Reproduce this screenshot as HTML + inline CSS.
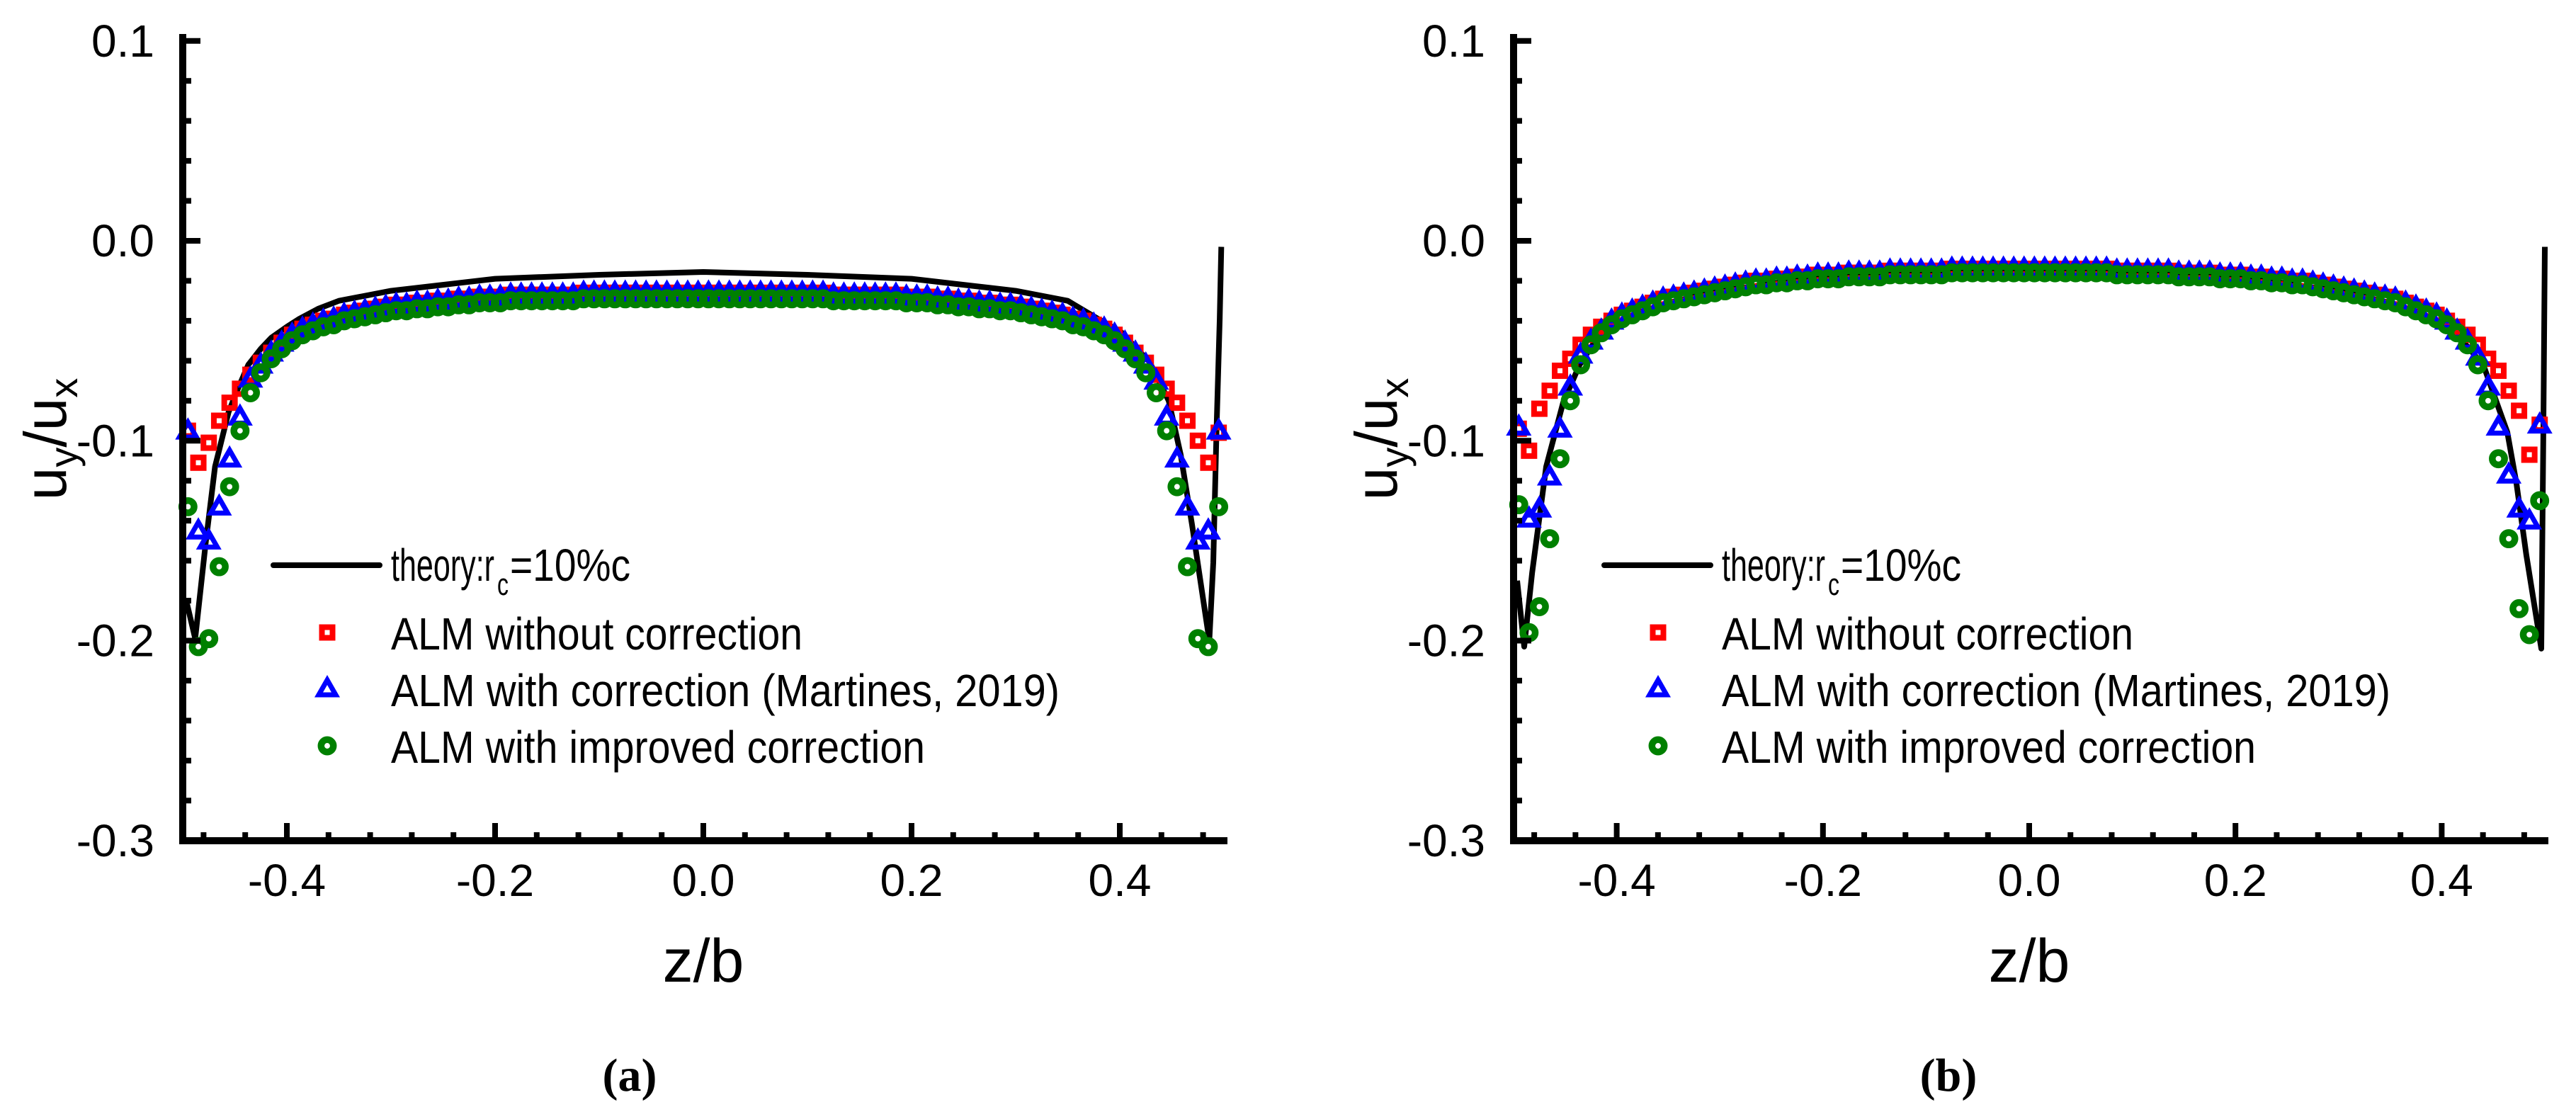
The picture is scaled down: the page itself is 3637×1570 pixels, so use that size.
<!DOCTYPE html>
<html><head><meta charset="utf-8"><style>
html,body{margin:0;padding:0;background:#fff}
svg{display:block}
text{font-family:"Liberation Sans",Arial,sans-serif}
</style></head><body>
<svg id="fig" width="3637" height="1570" viewBox="0 0 3637 1570" xmlns="http://www.w3.org/2000/svg"></svg>
<script>
// ---------- shared data ----------
const yTicks = [0.1, 0.0, -0.1, -0.2, -0.3];
const yTickLabels = ["0.1", "0.0", "-0.1", "-0.2", "-0.3"];
const xTicks = [-0.4, -0.2, 0.0, 0.2, 0.4];
const xTickLabels = ["-0.4", "-0.2", "0.0", "0.2", "0.4"];
const markerZ = [-0.495,-0.485,-0.475,-0.465,-0.455,-0.445,-0.435,-0.425,-0.415,-0.405,-0.395,-0.385,-0.375,-0.365,-0.355,-0.345,-0.335,-0.325,-0.315,-0.305,-0.295,-0.285,-0.275,-0.265,-0.255,-0.245,-0.235,-0.225,-0.215,-0.205,-0.195,-0.185,-0.175,-0.165,-0.155,-0.145,-0.135,-0.125,-0.115,-0.105,-0.095,-0.085,-0.075,-0.065,-0.055,-0.045,-0.035,-0.025,-0.015,-0.005,0.005,0.015,0.025,0.035,0.045,0.055,0.065,0.075,0.085,0.095,0.105,0.115,0.125,0.135,0.145,0.155,0.165,0.175,0.185,0.195,0.205,0.215,0.225,0.235,0.245,0.255,0.265,0.275,0.285,0.295,0.305,0.315,0.325,0.335,0.345,0.355,0.365,0.375,0.385,0.395,0.405,0.415,0.425,0.435,0.445,0.455,0.465,0.475,0.485,0.495];

// ---------- panel (a) ----------
const theoryZa = [-0.4966,-0.488,-0.478,-0.469,-0.456,-0.447,-0.437,-0.425,-0.415,-0.40,-0.388,-0.37,-0.35,-0.3,-0.25,-0.2,-0.1,0,0.1,0.2,0.25,0.3,0.35,0.379,0.4014,0.4286,0.447,0.4585,0.4694,0.486,0.4898,0.493,0.496,0.4975];
const theoryVa = [-0.18,-0.199,-0.1515,-0.113,-0.0857,-0.074,-0.062,-0.054,-0.0485,-0.043,-0.039,-0.034,-0.030,-0.025,-0.022,-0.019,-0.017,-0.0156,-0.017,-0.019,-0.022,-0.025,-0.030,-0.039,-0.0457,-0.0606,-0.080,-0.107,-0.142,-0.200,-0.161,-0.093,-0.039,-0.003];
const redA = [-0.095,-0.111,-0.101,-0.090,-0.081,-0.074,-0.067,-0.061,-0.056,-0.051,
-0.047,-0.044,-0.042,-0.040,-0.039,-0.037,-0.036,-0.035,-0.034,-0.033,
-0.032,-0.032,-0.031,-0.031,-0.030,-0.030,-0.029,-0.029,-0.028,-0.028,
-0.028,-0.027,-0.027,-0.027,-0.027,-0.027,-0.027,-0.027,-0.026,-0.026,
-0.026,-0.026,-0.026,-0.026,-0.026,-0.026,-0.026,-0.026,-0.026,-0.026,
-0.026,-0.026,-0.026,-0.026,-0.026,-0.026,-0.026,-0.026,-0.026,-0.026,
-0.026,-0.026,-0.027,-0.027,-0.027,-0.027,-0.027,-0.027,-0.027,-0.028,
-0.028,-0.028,-0.029,-0.029,-0.030,-0.030,-0.031,-0.031,-0.032,-0.032,
-0.033,-0.034,-0.035,-0.036,-0.037,-0.039,-0.040,-0.042,-0.044,-0.047,
-0.051,-0.056,-0.061,-0.067,-0.074,-0.081,-0.090,-0.100,-0.111,-0.096];
const blueA = [-0.095,-0.145,-0.150,-0.133,-0.109,-0.088,-0.069,-0.062,-0.056,-0.051,
-0.047,-0.044,-0.042,-0.040,-0.039,-0.037,-0.036,-0.035,-0.034,-0.033,
-0.032,-0.032,-0.031,-0.031,-0.030,-0.030,-0.029,-0.029,-0.028,-0.028,
-0.028,-0.027,-0.027,-0.027,-0.027,-0.027,-0.027,-0.027,-0.026,-0.026,
-0.026,-0.026,-0.026,-0.026,-0.026,-0.026,-0.026,-0.026,-0.026,-0.026,
-0.026,-0.026,-0.026,-0.026,-0.026,-0.026,-0.026,-0.026,-0.026,-0.026,
-0.026,-0.026,-0.027,-0.027,-0.027,-0.027,-0.027,-0.027,-0.027,-0.028,
-0.028,-0.028,-0.029,-0.029,-0.030,-0.030,-0.031,-0.031,-0.032,-0.032,
-0.033,-0.034,-0.035,-0.036,-0.037,-0.039,-0.040,-0.042,-0.044,-0.047,
-0.051,-0.056,-0.062,-0.070,-0.088,-0.109,-0.133,-0.150,-0.145,-0.095];
const greenA = [-0.133,-0.203,-0.199,-0.163,-0.123,-0.095,-0.076,-0.066,-0.059,-0.054,
-0.050,-0.047,-0.045,-0.043,-0.042,-0.040,-0.039,-0.038,-0.037,-0.036,
-0.035,-0.035,-0.034,-0.034,-0.033,-0.033,-0.032,-0.032,-0.031,-0.031,
-0.031,-0.030,-0.030,-0.030,-0.030,-0.030,-0.030,-0.030,-0.029,-0.029,
-0.029,-0.029,-0.029,-0.029,-0.029,-0.029,-0.029,-0.029,-0.029,-0.029,
-0.029,-0.029,-0.029,-0.029,-0.029,-0.029,-0.029,-0.029,-0.029,-0.029,
-0.029,-0.029,-0.030,-0.030,-0.030,-0.030,-0.030,-0.030,-0.030,-0.031,
-0.031,-0.031,-0.032,-0.032,-0.033,-0.033,-0.034,-0.034,-0.035,-0.035,
-0.036,-0.037,-0.038,-0.039,-0.040,-0.042,-0.043,-0.045,-0.047,-0.050,
-0.054,-0.059,-0.066,-0.076,-0.095,-0.123,-0.163,-0.199,-0.203,-0.133];

// ---------- panel (b) ----------
const theoryZb = [-0.4966,-0.4897,-0.482,-0.4684,-0.452,-0.436,-0.4135,-0.38,-0.35,-0.3,-0.2,-0.1,0,0.1,0.2,0.3,0.35,0.38,0.4087,0.427,0.441,0.452,0.4636,0.4725,0.482,0.4966,0.4985,0.5];
const theoryVb = [-0.17,-0.203,-0.166,-0.113,-0.081,-0.062,-0.0443,-0.036,-0.031,-0.025,-0.018,-0.0155,-0.015,-0.0155,-0.018,-0.025,-0.031,-0.036,-0.044,-0.054,-0.063,-0.079,-0.0957,-0.1215,-0.157,-0.204,-0.10,-0.003];
const redB = [-0.094,-0.105,-0.084,-0.075,-0.065,-0.059,-0.052,-0.047,-0.043,-0.040,
-0.037,-0.035,-0.033,-0.031,-0.029,-0.028,-0.027,-0.026,-0.025,-0.024,
-0.023,-0.022,-0.021,-0.020,-0.020,-0.019,-0.019,-0.018,-0.018,-0.017,
-0.017,-0.017,-0.016,-0.016,-0.016,-0.016,-0.015,-0.015,-0.015,-0.015,
-0.015,-0.015,-0.014,-0.014,-0.014,-0.014,-0.014,-0.014,-0.014,-0.014,
-0.014,-0.014,-0.014,-0.014,-0.014,-0.014,-0.014,-0.014,-0.015,-0.015,
-0.015,-0.015,-0.015,-0.015,-0.016,-0.016,-0.016,-0.016,-0.017,-0.017,
-0.017,-0.018,-0.018,-0.019,-0.019,-0.020,-0.020,-0.021,-0.022,-0.023,
-0.024,-0.025,-0.026,-0.027,-0.028,-0.029,-0.031,-0.033,-0.035,-0.037,
-0.040,-0.043,-0.047,-0.052,-0.059,-0.065,-0.075,-0.085,-0.107,-0.092];
const blueB = [-0.093,-0.139,-0.134,-0.118,-0.094,-0.073,-0.057,-0.050,-0.045,-0.040,
-0.037,-0.035,-0.033,-0.031,-0.029,-0.028,-0.027,-0.026,-0.025,-0.024,
-0.023,-0.022,-0.021,-0.020,-0.020,-0.019,-0.019,-0.018,-0.018,-0.017,
-0.017,-0.017,-0.016,-0.016,-0.016,-0.016,-0.015,-0.015,-0.015,-0.015,
-0.015,-0.015,-0.014,-0.014,-0.014,-0.014,-0.014,-0.014,-0.014,-0.014,
-0.014,-0.014,-0.014,-0.014,-0.014,-0.014,-0.014,-0.014,-0.015,-0.015,
-0.015,-0.015,-0.015,-0.015,-0.016,-0.016,-0.016,-0.016,-0.017,-0.017,
-0.017,-0.018,-0.018,-0.019,-0.019,-0.020,-0.020,-0.021,-0.022,-0.023,
-0.024,-0.025,-0.026,-0.027,-0.028,-0.029,-0.031,-0.033,-0.035,-0.037,
-0.040,-0.045,-0.050,-0.058,-0.073,-0.093,-0.117,-0.134,-0.140,-0.092];
const greenB = [-0.132,-0.196,-0.183,-0.149,-0.109,-0.080,-0.062,-0.052,-0.046,-0.042,
-0.039,-0.037,-0.035,-0.033,-0.031,-0.030,-0.029,-0.028,-0.027,-0.026,
-0.025,-0.024,-0.023,-0.022,-0.022,-0.021,-0.021,-0.020,-0.020,-0.019,
-0.019,-0.019,-0.018,-0.018,-0.018,-0.018,-0.017,-0.017,-0.017,-0.017,
-0.017,-0.017,-0.016,-0.016,-0.016,-0.016,-0.016,-0.016,-0.016,-0.016,
-0.016,-0.016,-0.016,-0.016,-0.016,-0.016,-0.016,-0.016,-0.017,-0.017,
-0.017,-0.017,-0.017,-0.017,-0.018,-0.018,-0.018,-0.018,-0.019,-0.019,
-0.019,-0.020,-0.020,-0.021,-0.021,-0.022,-0.022,-0.023,-0.024,-0.025,
-0.026,-0.027,-0.028,-0.029,-0.030,-0.031,-0.033,-0.035,-0.037,-0.039,
-0.042,-0.046,-0.052,-0.062,-0.080,-0.109,-0.149,-0.184,-0.197,-0.130];

const NS = "http://www.w3.org/2000/svg";
const svg = document.getElementById("fig");
function mk(tag, attrs, parent) {
  const e = document.createElementNS(NS, tag);
  for (const k in attrs) e.setAttribute(k, attrs[k]);
  (parent || svg).appendChild(e);
  return e;
}

function drawPanel(p) {
  const g = mk("g", {});
  
  
  const x0 = p.x0, x1 = p.x1, yTop = 58, yBot = 1187;
  const xs = z => x0 + (z + 0.5) * (x1 - x0);
  const ys = v => 340 - v * 2822.5;

  let d = "";
  for (let i = 0; i < p.tz.length; i++) d += (i ? "L" : "M") + xs(p.tz[i]).toFixed(1) + " " + ys(p.tv[i]).toFixed(1);
  const line = mk("path", {d: d, fill: "none", stroke: "#000", "stroke-width": 8, "stroke-linejoin": "round"}, g);
  
  

  const drawSq = (par, cx, cy) => mk("rect", {x: cx - 7.5, y: cy - 7.5, width: 15, height: 15, fill: "none", stroke: "#ff0000", "stroke-width": 8}, par);
  const drawTri = (par, cx, cy) => mk("path", {d: `M${cx} ${cy-12}L${cx+12} ${cy+9}L${cx-12} ${cy+9}Z`, fill: "none", stroke: "#0000ff", "stroke-width": 7, "stroke-linejoin": "miter"}, par);
  const drawCirc = (par, cx, cy) => mk("circle", {cx: cx, cy: cy, r: 8.7, fill: "none", stroke: "#008000", "stroke-width": 9.5}, par);

  const gr = mk("g", {}, g);
  
  
  for (let i = 0; i < markerZ.length; i++) {
    const m = drawSq(gr, xs(markerZ[i]), ys(p.red[i]));
    
    
  }
  const gb = mk("g", {}, g);
  
  
  for (let i = 0; i < markerZ.length; i++) {
    const m = drawTri(gb, xs(markerZ[i]), ys(p.blue[i]));
    
    
  }
  const gg = mk("g", {}, g);
  
  
  for (let i = 0; i < markerZ.length; i++) {
    const m = drawCirc(gg, xs(markerZ[i]), ys(p.green[i]));
    
    
  }

  const ax = mk("g", {}, g);
  
  
  mk("path", {d: `M${x0} ${yTop-5}V${yBot}H${x1}`, fill: "none", stroke: "#000", "stroke-width": 10, "stroke-linecap": "square"}, ax);
  for (let k = 0; k <= 20; k++) {
    const v = 0.1 - k * 0.02;
    const major = k % 5 === 0;
    const y = ys(v);
    mk("line", {x1: x0, y1: y, x2: x0 + (major ? 25 : 12), y2: y, stroke: "#000", "stroke-width": 8}, ax);
  }
  for (let k = 0; k <= 24; k++) {
    const z = -0.48 + k * 0.04;
    const major = Math.abs(Math.round(z * 100) % 20) === 0;
    const x = xs(z);
    mk("line", {x1: x, y1: yBot, x2: x, y2: yBot - (major ? 25 : 12), stroke: "#000", "stroke-width": 8}, ax);
  }
  yTicks.forEach((v, i) => {
    const t = mk("text", {x: x0 - 40, y: ys(v) + 22, "text-anchor": "end", "font-size": 64}, g);
    t.textContent = yTickLabels[i];
    
    
  });
  xTicks.forEach((z, i) => {
    const t = mk("text", {x: xs(z), y: 1265, "text-anchor": "middle", "font-size": 64}, g);
    t.textContent = xTickLabels[i];
    
    
  });

  const xt = mk("text", {x: (x0 + x1) / 2, y: 1386, "text-anchor": "middle", "font-size": 86}, g);
  xt.textContent = "z/b";
  
  
  const yt = mk("text", {transform: `translate(${x0 - 165},620) rotate(-90)`, "text-anchor": "middle", "font-size": 84}, g);
  
  
  yt.innerHTML = 'u<tspan font-size="56" dy="16">y</tspan><tspan dy="-16">/u</tspan><tspan font-size="56" dy="16">x</tspan>';

  const lg = mk("g", {}, g);
  
  
  const lx = x0 + 128, tx = x0 + 294;
  mk("line", {x1: lx, y1: 798, x2: lx + 150, y2: 798, stroke: "#000", "stroke-width": 8, "stroke-linecap": "round"}, lg);
  const ta = mk("text", {x: tx, y: 820, "font-size": 64, textLength: 146, lengthAdjust: "spacingAndGlyphs"}, lg);
  ta.textContent = "theory:r";
  
  
  const tb = mk("text", {x: tx + 150, y: 840, "font-size": 44, textLength: 16, lengthAdjust: "spacingAndGlyphs"}, lg);
  tb.textContent = "c";
  
  
  const tc = mk("text", {x: tx + 168, y: 820, "font-size": 64, textLength: 170, lengthAdjust: "spacingAndGlyphs"}, lg);
  tc.textContent = "=10%c";
  
  
  drawSq(lg, x0 + 204, 893);
  drawTri(lg, x0 + 204, 972);
  drawCirc(lg, x0 + 204, 1053);
  const labels = [["ALM without correction", 581, 917], ["ALM with correction (Martines, 2019)", 944, 997], ["ALM with improved correction", 754, 1077]];
  labels.forEach(l => {
    const t = mk("text", {x: tx, y: l[2], "font-size": 64, textLength: l[1], lengthAdjust: "spacingAndGlyphs"}, lg);
    t.textContent = l[0];
    
    
  });

  const cap = mk("text", {x: p.capX, y: 1540, "text-anchor": "middle", "font-size": 66, "font-weight": "bold", style: 'font-family:"Liberation Serif",serif'}, g);
  cap.textContent = p.cap;
  
  
}
drawPanel({id: "a", x0: 258, x1: 1728, tz: theoryZa, tv: theoryVa, red: redA, blue: blueA, green: greenA, capX: 889, cap: "(a)"});
drawPanel({id: "b", x0: 2137, x1: 3593, tz: theoryZb, tv: theoryVb, red: redB, blue: blueB, green: greenB, capX: 2751, cap: "(b)"});
</script>
</body></html>
